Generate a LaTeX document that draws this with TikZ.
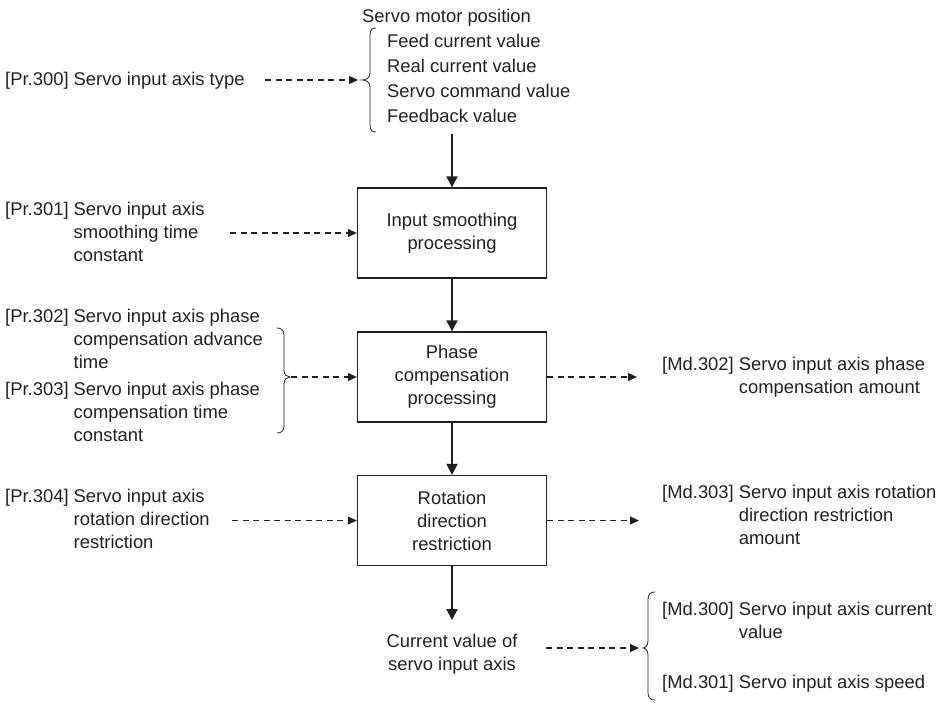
\documentclass[tikz,border=0pt]{standalone}
\usepackage{fontspec}
\setmainfont{Liberation Sans}
\usetikzlibrary{arrows.meta}
\definecolor{ink}{HTML}{231F20}
\begin{document}
\begin{tikzpicture}[x=1pt,y=-1pt,
  every node/.style={font=\fontsize{18.4}{23}\selectfont, text=ink, inner sep=0pt},
  proc/.style={draw=ink, line width=1.3pt, minimum width=189pt, minimum height=90pt, align=center, execute at begin node={\rule{0pt}{19pt}}},
  lbl/.style={anchor=base west},
  flow/.style={draw=ink, line width=2pt, -{Triangle[length=11pt,width=11pt]}},
  dflow/.style={draw=ink, line width=1.15pt, dash pattern=on 6pt off 4.5pt, -{Triangle[length=9pt,width=8pt]}},
  brc/.style={draw=ink, line width=0.8pt}
]
\useasboundingbox (0,0) rectangle (941,702);

% text labels
\node[lbl] (pr300) at (5,85) {[Pr.300] Servo input axis type};
\node[lbl] (smp) at (362,22) {Servo motor position};
\node[lbl, font=\fontsize{18.4}{25}\selectfont] (list) at (387,47) {\begin{tabular}[t]{@{}l@{}}Feed current value\\Real current value\\Servo command value\\Feedback value\end{tabular}};
\node[lbl] (pr301) at (5,215) {\begin{tabular}[t]{@{}l@{ }l@{}}[Pr.301] & Servo input axis\\ & smoothing time\\ & constant\end{tabular}};
\node[lbl] (pr302) at (5,322) {\begin{tabular}[t]{@{}l@{ }l@{}}[Pr.302] & Servo input axis phase\\ & compensation advance\\ & time\end{tabular}};
\node[lbl] (pr303) at (5,395) {\begin{tabular}[t]{@{}l@{ }l@{}}[Pr.303] & Servo input axis phase\\ & compensation time\\ & constant\end{tabular}};
\node[lbl] (pr304) at (5,502) {\begin{tabular}[t]{@{}l@{ }l@{}}[Pr.304] & Servo input axis\\ & rotation direction\\ & restriction\end{tabular}};
\node[lbl] (md302) at (662,370) {\begin{tabular}[t]{@{}l@{ }l@{}}[Md.302] & Servo input axis phase\\ & compensation amount\end{tabular}};
\node[lbl] (md303) at (662,498) {\begin{tabular}[t]{@{}l@{ }l@{}}[Md.303] & Servo input axis rotation\\ & direction restriction\\ & amount\end{tabular}};
\node[lbl] (md300) at (662,615) {\begin{tabular}[t]{@{}l@{ }l@{}}[Md.300] & Servo input axis current\\ & value\end{tabular}};
\node[lbl] (md301) at (662,688) {[Md.301] Servo input axis speed};
\node[anchor=base] (cur) at (452,647) {\begin{tabular}[t]{@{}c@{}}Current value of\\servo input axis\end{tabular}};

% process boxes
\node[proc] (b1) at (452,233) {Input smoothing\\processing};
\node[proc] (b2) at (452,377) {Phase\\compensation\\processing};
\node[proc] (b3) at (452,520.5) {Rotation\\direction\\restriction};

% connector end points
\coordinate (top) at (452,134);
\coordinate (bot) at (452,620);
\coordinate (s300) at (265,80);
\coordinate (t300) at (362,80);
\coordinate (s301) at (230,233);
\coordinate (t302) at (290,377);
\coordinate (s304) at (232,520.5);
\coordinate (e302) at (637,377);
\coordinate (e303) at (639,520.5);
\coordinate (scur) at (546,648);
\coordinate (tcur) at (643,648);

% solid flow
\draw[flow] (top) -- (b1.north);
\draw[flow] (b1.south) -- (b2.north);
\draw[flow] (b2.south) -- (b3.north);
\draw[flow] (b3.south) -- (bot);

% dashed arrows
\draw[dflow, shorten >=4pt] (s300) -- (t300);
\draw[dflow] (s301) -- (b1.west);
\draw[dflow, shorten <=1pt] (t302) -- (b2.west);
\draw[dflow] (s304) -- (b3.west);
\draw[dflow] (b2.east) -- (e302);
\draw[dflow] (b3.east) -- (e303);
\draw[dflow, shorten >=4pt] (scur) -- (tcur);

% braces
\draw[brc] (376,28) .. controls (372,28) and (370,30) .. (370,35) -- (370,73) .. controls (370,78) and (366,80) .. (t300) .. controls (366,80) and (370,82) .. (370,87) -- (370,125) .. controls (370,130) and (372,132) .. (376,132);
\draw[brc] (277,328) .. controls (281,328) and (284,330) .. (284,335) -- (284,370) .. controls (284,375) and (287,377) .. (t302) .. controls (287,377) and (284,379) .. (284,384) -- (284,426) .. controls (284,431) and (281,433) .. (277,433);
\draw[brc] (655,592) .. controls (651,592) and (648,594) .. (648,599) -- (648,641) .. controls (648,646) and (645,648) .. (tcur) .. controls (645,648) and (648,650) .. (648,655) -- (648,693) .. controls (648,698) and (651,700) .. (655,700);
\end{tikzpicture}
\end{document}
